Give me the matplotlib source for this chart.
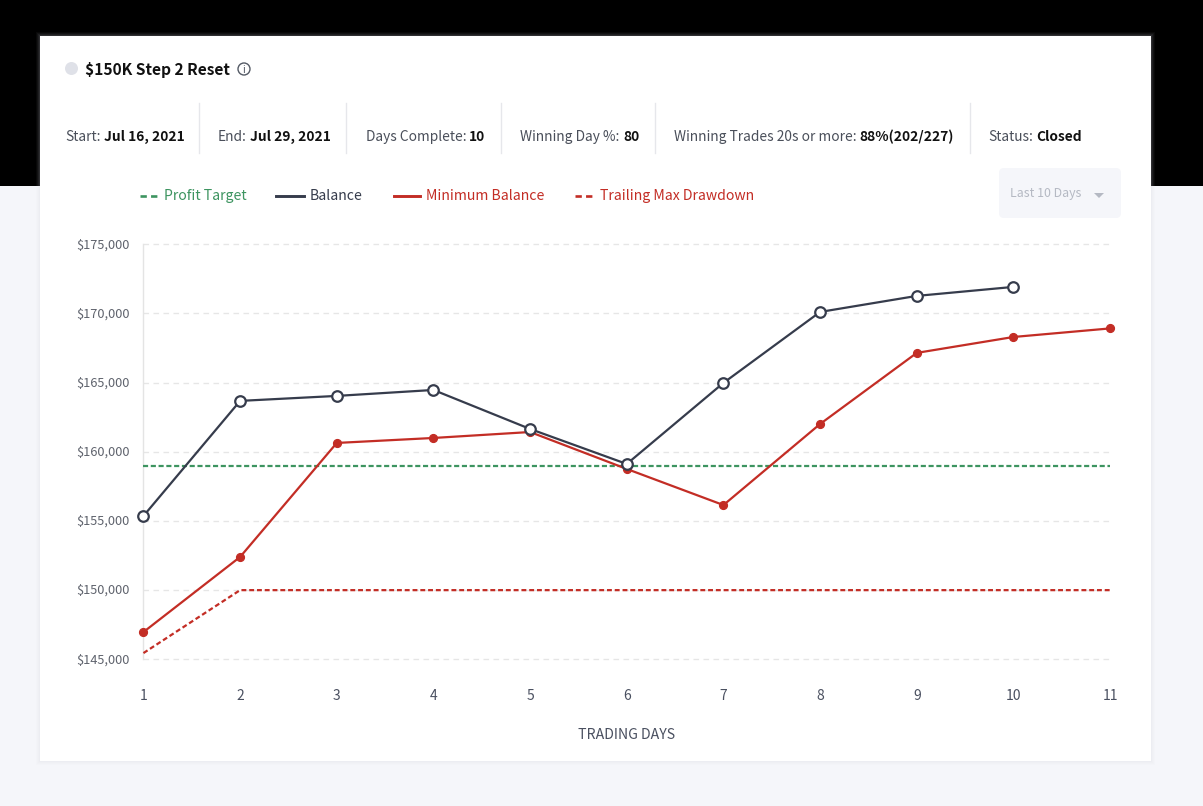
import matplotlib
matplotlib.use("Agg")
import matplotlib.pyplot as plt
from matplotlib.patches import Rectangle, FancyBboxPatch, Circle, Polygon
from matplotlib.ticker import FuncFormatter
from matplotlib.transforms import ScaledTranslation

plt.rcParams['font.family'] = ['Noto Sans CJK SC', 'DejaVu Sans']

W, H = 1203, 806
days = [1, 2, 3, 4, 5, 6, 7, 8, 9, 10, 11]
balance = [155360, 163680, 164040, 164470, 161650, 159120, 164980, 170110, 171270, 171920]
min_balance = [146970, 152400, 160640, 161000, 161430, 158760, 156150, 162010, 167150, 168300, 168920]
trailing = [145450, 150000, 150000, 150000, 150000, 150000, 150000, 150000, 150000, 150000, 150000]
target = [159000] * 11
y_ticks = [145000, 150000, 155000, 160000, 165000, 170000, 175000]

GREEN, NAVY, RED = '#3d9460', '#363c4c', '#c32d25'

fig = plt.figure(figsize=(W / 100, H / 100), dpi=100, facecolor='#f5f6fa')
bg = fig.add_axes([0, 0, 1, 1])
bg.set_xlim(0, W); bg.set_ylim(H, 0); bg.axis('off')
bg.add_patch(Rectangle((0, 0), W, 186, fc='black', ec='none'))
# soft card shadow
for i, a in zip((4, 3, 2, 1), (0.04, 0.05, 0.07, 0.09)):
    bg.add_patch(Rectangle((40 - i, 36 - i), 1111 + 2 * i, 725 + 2 * i, fc='#d5d8e0', ec='none', alpha=a))
bg.add_patch(Rectangle((40, 36), 1111, 725, fc='white', ec='none'))

# header
bg.add_patch(Circle((71.5, 68.5), 6.5, fc='#dfe1e8', ec='none'))
bg.text(85, 68.5, '$150K Step 2 Reset', fontsize=11.2, fontweight='bold', color='#111111', va='center_baseline')
bg.add_patch(Circle((244, 69), 6, fc='none', ec='#555b66', lw=1))
bg.text(244, 69, 'i', fontsize=7.5, color='#555b66', ha='center', va='center_baseline')

# stats row
for x in (199, 346, 501, 655, 970):
    bg.plot([x, x], [103, 153], color='#e6e7eb', lw=1)
stats = [(65, 'Start: ', 'Jul 16, 2021'), (218, 'End: ', 'Jul 29, 2021'),
         (365.5, 'Days Complete: ', '10'), (520.5, 'Winning Day %: ', '80'),
         (674, 'Winning Trades 20s or more: ', '88%(202/227)'), (988.5, 'Status: ', 'Closed')]
fig.canvas.draw()
rend = fig.canvas.get_renderer()
for x, label, val in stats:
    t = bg.text(x, 135.5, label.rstrip(), fontsize=9.9, color='#4a4f5a', va='center_baseline')
    w = t.get_window_extent(rend).width
    bg.text(x + w + 3.2, 135.5, val, fontsize=9.9, fontweight='bold', color='#111111', va='center_baseline')

# dropdown
bg.add_patch(FancyBboxPatch((999, 168), 122, 50, boxstyle='round,pad=0,rounding_size=5',
                            fc='#f5f6fa', ec='none', lw=0))
bg.text(1010, 192.5, 'Last 10 Days', fontsize=8.9, color='#b5b9c3', va='center_baseline')
bg.add_patch(Polygon([[1094, 193], [1104, 193], [1099, 198]], fc='#b5b9c3', ec='none'))

# main chart
ax = fig.add_axes([143.45 / W, 1 - 659.3 / H, (1110.1 - 143.45) / W, (659.3 - 244.3) / H])
ax.set_facecolor('none')
ax.set_xlim(1, 11); ax.set_ylim(145000, 175000)
for s in ('top', 'right', 'bottom'):
    ax.spines[s].set_visible(False)
ax.spines['left'].set_color('#e4e4e4'); ax.spines['left'].set_linewidth(1)
ax.set_yticks(y_ticks); ax.set_xticks(days)
ax.yaxis.set_major_formatter(FuncFormatter(lambda v, _: f'${v:,.0f}'))
ax.tick_params(axis='both', length=0)
ax.tick_params(axis='y', labelsize=9.2, labelcolor='#5f636d', pad=10)
ax.tick_params(axis='x', labelsize=10, labelcolor='#4a5060', pad=21.3)
ax.grid(axis='y', color='#e6e6e6', lw=1, dashes=(4, 3.2), clip_on=False)
ax.set_axisbelow(True)
ax.set_xlabel('TRADING DAYS', fontsize=10.2, color='#4a5060', labelpad=18.4)
shift = ScaledTranslation(0, 1 / 100, fig.dpi_scale_trans)
for lab in ax.get_yticklabels():
    lab.set_transform(lab.get_transform() + shift)

ax.plot(days, target, color=GREEN, lw=1.6, dashes=(2.3, 1.2), clip_on=False, zorder=3)
ax.plot(days, trailing, color=RED, lw=1.6, dashes=(2.2, 1.3), clip_on=False, zorder=3)
ax.plot(days, min_balance, color=RED, lw=1.6, marker='o', ms=5.6, mec=RED, mfc=RED, clip_on=False, zorder=4)
ax.plot(days[:len(balance)], balance, color=NAVY, lw=1.6, marker='o', ms=7.6, mec=NAVY, mew=1.6,
        mfc='white', clip_on=False, zorder=5)

# legend
leg_y = 196
legend = [(140, 160, GREEN, True, 'Profit Target', 164.5, GREEN),
          (276, 304, NAVY, False, 'Balance', 309.5, NAVY),
          (394, 420, RED, False, 'Minimum Balance', 425.5, RED),
          (575, 595, RED, True, 'Trailing Max Drawdown', 600, RED)]
for x0, x1, c, dashed, label, tx, tc in legend:
    if dashed:
        bg.plot([x0, x1], [leg_y, leg_y], color=c, lw=1.9, dashes=(2.4, 1.6))
    else:
        bg.plot([x0, x1], [leg_y, leg_y], color=c, lw=2.1)
    bg.text(tx, 194.5, label, fontsize=10.15, color=tc, va='center_baseline')

fig.savefig('out.png', dpi=100, facecolor=fig.get_facecolor())
